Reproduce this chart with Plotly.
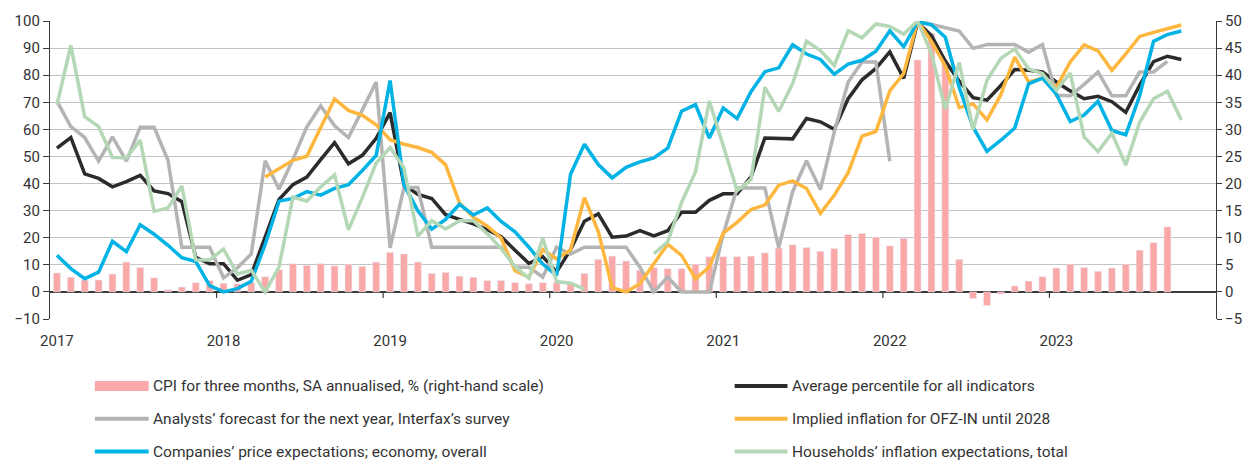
import plotly.graph_objects as go

# ---- data ---------------------------------------------------------------
years = [2017, 2018, 2019, 2020, 2021, 2022, 2023]
months = [f"{y}-{m:02d}" for y in years for m in range(1, 13)]

cpi_3m_saar = [3.5, 2.7, 2.2, 2.2, 3.3, 5.5, 4.5, 2.6, 0.4, 0.9, 1.7, 2.1,
               1.6, 1.5, 1.7, 2.8, 4.1, 5.2, 4.9, 5.2, 4.8, 5.1, 4.7, 5.5,
               7.3, 7.0, 5.5, 3.4, 3.6, 2.9, 2.7, 2.1, 2.1, 1.7, 1.5, 1.7,
               1.8, 1.8, 3.4, 6.0, 6.6, 5.7, 4.0, 4.5, 4.3, 4.3, 5.1, 6.5,
               6.5, 6.5, 6.6, 7.2, 8.1, 8.7, 8.2, 7.5, 8.0, 10.6, 10.8, 10.1,
               8.5, 9.9, 42.8, 47.7, 42.3, 6.0, -1.2, -2.5, -0.4, 1.1, 2.0, 2.8,
               4.4, 5.1, 4.5, 3.8, 4.4, 5.1, 7.7, 9.1, 12.0]

avg_percentile = [53.1, 57.0, 43.6, 41.9, 38.8, 40.7, 43.0, 37.3, 36.3, 33.3, 12.8, 10.4,
                  10.4, 4.3, 6.4, 20.0, 34.1, 39.6, 42.4, 48.8, 55.1, 47.3, 50.4, 56.7,
                  66.2, 39.6, 36.0, 34.5, 28.5, 26.8, 25.1, 23.0, 20.4, 15.4, 10.5, 13.0,
                  7.4, 15.6, 26.1, 28.8, 20.2, 20.6, 22.6, 20.7, 22.6, 29.4, 29.4, 33.8,
                  36.2, 36.2, 42.5, 56.8, 56.8, 56.5, 64.0, 62.8, 60.0, 71.3, 78.3, 82.5,
                  88.6, 78.8, 99.5, 94.6, 85.2, 77.8, 71.7, 70.8, 76.2, 82.1, 81.8, 81.2,
                  77.5, 74.2, 71.3, 72.2, 70.2, 66.3, 76.3, 85.0, 87.0, 85.8]

analysts = [70.4, 61.0, 57.0, 48.3, 57.2, 48.3, 60.8, 60.8, 48.6, 16.5, 16.5, 16.5,
            5.2, 8.9, 14.0, 48.4, 37.9, 48.9, 60.9, 68.7, 61.3, 57.0, 67.2, 77.5,
            16.3, 38.5, 38.5, 16.5, 16.5, 16.5, 16.5, 16.5, 16.5, 9.1, 9.1, 5.5,
            16.5, 14.0, 16.5, 16.5, 16.5, 16.5, 9.1, 0.0, 5.5, 0.0, 0.0, 0.0,
            21.3, 38.4, 38.4, 38.4, 16.3, 37.0, 48.4, 37.8, 59.0, 77.5, 84.9, 84.9,
            48.2, None, 100.0, 98.8, 97.4, 96.3, 89.9, 91.3, 91.3, 91.3, 88.5, 91.3,
            72.6, 72.4, 76.6, 81.2, 72.4, 72.4, 81.2, 81.2, 85.1]

implied_ofz = [None] * 15 + [
    42.4, 45.5, 48.6, 50.1, 60.8, 71.2, 67.0, 65.2, 61.7,
    56.2, 54.5, 53.3, 51.5, 46.9, 32.8, 27.6, 24.3, 19.9, 7.8, 5.4, 15.6,
    12.2, 15.5, 34.8, 22.3, 1.6, 0.0, 3.0, 10.4, 17.6, 13.5, 4.8, 9.2,
    21.7, 25.7, 30.4, 32.1, 39.4, 41.0, 38.2, 29.0, 35.7, 44.0, 57.5, 59.2,
    74.2, 80.6, 100.0, 92.5, 83.4, 68.0, 69.4, 63.5, 72.8, 86.7, 77.5, 78.9,
    75.5, 84.9, 91.2, 89.0, 81.8, 87.9, 94.3, 95.8, 97.2, 98.5]

companies = [13.5, 8.6, 4.9, 7.3, 18.7, 14.9, 24.8, 21.3, 17.2, 12.6, 11.2, 2.3,
             0.0, 1.2, 3.9, 17.5, 33.5, 34.5, 37.0, 35.7, 38.2, 39.6, 44.8, 50.4,
             78.0, 39.6, 29.9, 23.2, 26.8, 32.3, 28.4, 31.0, 26.0, 22.2, 16.5, 10.3,
             6.1, 43.4, 54.5, 47.0, 42.1, 46.0, 48.0, 49.5, 53.1, 66.7, 69.1, 56.8,
             67.9, 64.0, 73.9, 81.3, 82.7, 91.2, 87.8, 85.8, 80.4, 84.1, 85.5, 88.8,
             96.4, 90.5, 99.7, 98.6, 94.0, 75.5, 60.8, 51.9, 56.0, 60.5, 76.8, 78.9,
             73.0, 62.9, 65.3, 70.4, 59.6, 58.0, 72.4, 92.5, 95.0, 96.3]

households = [69.0, 91.0, 64.7, 61.0, 49.6, 49.5, 56.0, 29.7, 31.0, 39.1, 11.8, 11.8,
              15.8, 6.6, 8.0, 0.0, 9.2, 35.0, 33.5, 38.8, 43.2, 22.9, 34.8, 47.6,
              53.3, 45.8, 20.6, 26.3, 23.2, 26.3, 26.3, 21.5, 16.0, 9.3, 5.0, 19.7,
              3.8, 3.2, 1.0, None, None, None, None, 14.1, 18.5, 33.0, 44.3, 70.5,
              54.4, 37.4, 41.5, 75.5, 66.6, 76.9, 92.5, 89.1, 83.6, 96.4, 93.8, 98.9,
              98.0, 95.2, 100.0, 87.9, 67.5, 84.7, 59.9, 78.1, 86.2, 89.7, 82.3, 80.6,
              74.4, 80.8, 57.2, 51.8, 58.6, 46.8, 62.6, 71.3, 74.1, 63.5]

names = {
    "cpi": "CPI for three months, SA annualised, % (right-hand scale)",
    "avg": "Average percentile for all indicators",
    "ana": "Analysts\u2019 forecast for the next year, Interfax\u2019s survey",
    "ofz": "Implied inflation for OFZ-IN until 2028",
    "com": "Companies\u2019 price expectations; economy, overall",
    "hh": "Households\u2019 inflation expectations, total",
}

# ---- styling ------------------------------------------------------------
C_CPI = "#FBA8A9"
C_AVG = "#2B2B2B"
C_ANA = "#B4B4B4"
C_OFZ = "#FDB73E"
C_COM = "#00B3E4"
C_HH = "#B4D7B6"
FONT = "Roboto"
TXT = "#333333"
AX = "#3A3A3A"
LW = 3.5

W, H = 1254, 461
ML, MR, MT, MB = 50, 34, 19, 142
PW, PH = W - ML - MR, H - MT - MB


def px_x(p):  # page pixel -> paper x
    return (p - ML) / PW


def px_y(p):  # page pixel -> paper y
    return (MT + PH - p) / PH


fig = go.Figure()

# bars on the base (right-hand) axis so that lines are drawn above them
fig.add_trace(go.Bar(x=months[:len(cpi_3m_saar)], y=cpi_3m_saar, yaxis="y",
                     marker_color=C_CPI, width=0.5, showlegend=False,
                     name=names["cpi"]))

series = [
    (avg_percentile, C_AVG, "avg"),
    (analysts, C_ANA, "ana"),
    (implied_ofz, C_OFZ, "ofz"),
    (companies, C_COM, "com"),
    (households, C_HH, "hh"),
]
for vals, col, key in series:
    fig.add_trace(go.Scatter(x=months[:len(vals)], y=vals, yaxis="y2", mode="lines",
                             line=dict(color=col, width=LW), connectgaps=False,
                             showlegend=False, name=names[key]))

# year boundary tick marks on the zero line
for k in range(1, len(years)):
    fig.add_shape(type="line", xref="x", yref="y", x0=12 * k - 0.5, x1=12 * k - 0.5,
                  ysizemode="pixel", yanchor=0, y0=0, y1=-6,
                  line=dict(color=AX, width=1.2))

# legend (two columns, three rows) drawn below the plot
legend_rows = [("cpi", "avg"), ("ana", "ofz"), ("com", "hh")]
colors = {"cpi": C_CPI, "avg": C_AVG, "ana": C_ANA, "ofz": C_OFZ, "com": C_COM, "hh": C_HH}
row_y = [386.5, 419.5, 452.5]
col_sym = [(95, 149), (737, 790)]
col_txt = [151, 793]
for r, keys in enumerate(legend_rows):
    yc = row_y[r]
    for c, key in enumerate(keys):
        x0, x1 = col_sym[c]
        if key == "cpi":
            fig.add_shape(type="rect", xref="paper", yref="paper",
                          x0=px_x(x0), x1=px_x(x1), y0=px_y(yc + 5), y1=px_y(yc - 5),
                          fillcolor=C_CPI, line=dict(width=0))
        else:
            fig.add_shape(type="line", xref="paper", yref="paper",
                          x0=px_x(x0), x1=px_x(x1), y0=px_y(yc), y1=px_y(yc),
                          line=dict(color=colors[key], width=4))
        fig.add_annotation(text=names[key], xref="paper", yref="paper",
                           x=px_x(col_txt[c]), y=px_y(yc), xanchor="left", yanchor="middle",
                           showarrow=False, font=dict(family=FONT, size=15.5, color=TXT))

fig.update_layout(
    width=W, height=H,
    margin=dict(l=ML, r=MR, t=MT, b=MB),
    paper_bgcolor="white", plot_bgcolor="white",
    font=dict(family=FONT, size=15, color=TXT),
    showlegend=False,
    bargap=0.5,
    xaxis=dict(type="category", categoryorder="array", categoryarray=months,
               range=[-0.5, len(months) - 0.5],
               tickvals=[f"{y}-01" for y in years], ticktext=[str(y) for y in years],
               ticks="", showline=False, showgrid=False, zeroline=False,
               ticklabelstandoff=11,
               tickfont=dict(family=FONT, size=15, color=TXT)),
    yaxis=dict(side="right", range=[-5, 50], dtick=5, tick0=0,
               showgrid=True, gridcolor="#C4C4C4", gridwidth=1.2,
               zeroline=True, zerolinecolor=AX, zerolinewidth=1.5,
               showline=True, linecolor=AX, linewidth=1.2,
               ticks="outside", ticklen=5, tickcolor=AX,
               tickfont=dict(family=FONT, size=15, color=TXT)),
    yaxis2=dict(side="left", overlaying="y", range=[-10, 100], dtick=10, tick0=0,
                showgrid=False, zeroline=False,
                showline=True, linecolor=AX, linewidth=1.2,
                ticks="outside", ticklen=6, tickcolor=AX,
                tickfont=dict(family=FONT, size=15, color=TXT)),
)

fig.write_html("out.html", config={"displayModeBar": False},
               post_script="document.body.style.margin='0';document.body.style.overflow='hidden';")
